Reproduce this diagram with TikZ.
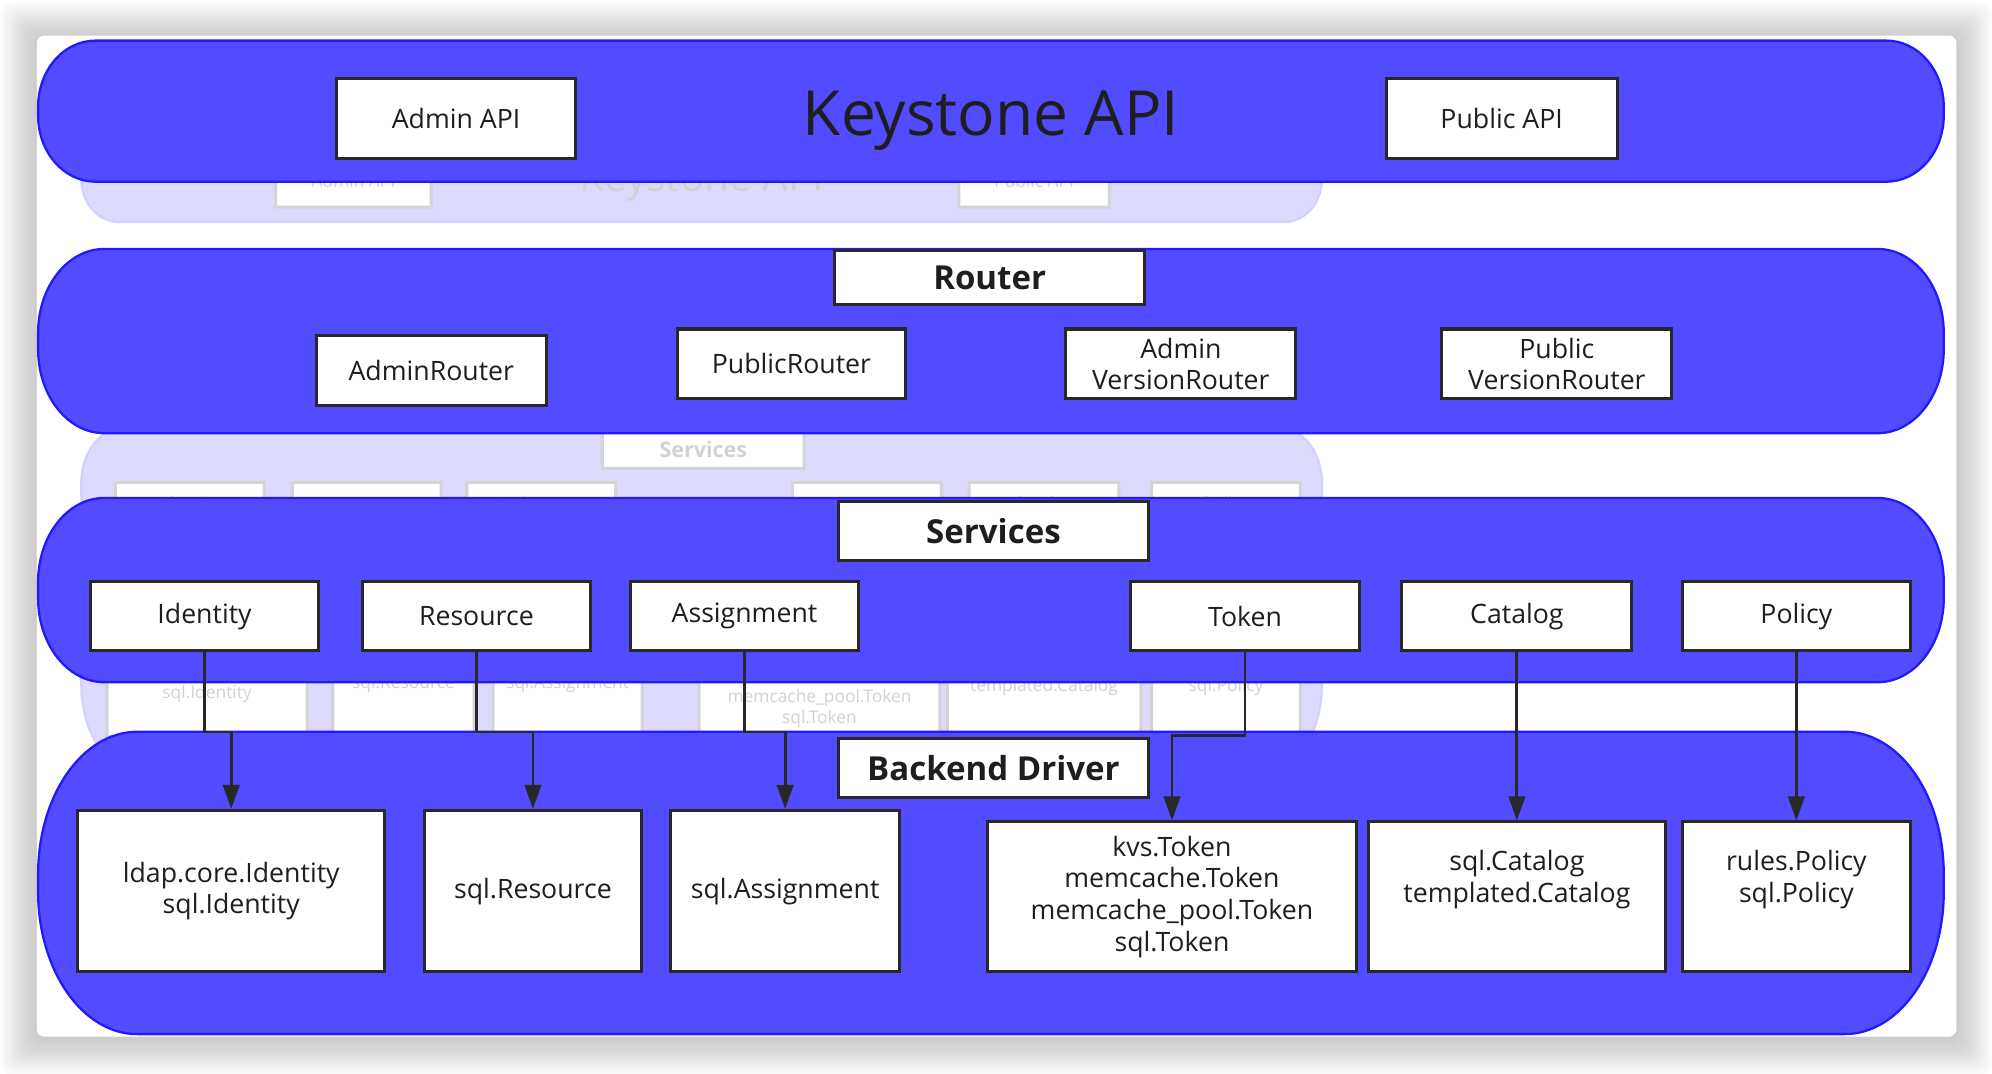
\documentclass[tikz,border=0pt]{standalone}
\usepackage{fontspec}
\setmainfont{Open Sans}
\usetikzlibrary{arrows.meta,calc}
\definecolor{layerblue}{RGB}{83,75,255}
\definecolor{layerline}{RGB}{35,25,255}
\definecolor{boxline}{RGB}{40,40,40}
\definecolor{boxtext}{RGB}{30,30,30}
\tikzstyle{layer}=[fill=layerblue,draw=layerline,line width=1.8pt]
\tikzstyle{box}=[rectangle,draw=boxline,fill=white,line width=2.4pt,text=boxtext,align=center,inner sep=0pt,font=\fontsize{21}{25}\selectfont]
\tikzstyle{titlebox}=[box,font=\fontsize{26}{30}\selectfont\bfseries]
\tikzstyle{title}=[text=boxtext,font=\fontsize{49}{56}\selectfont]
\tikzstyle{edge}=[draw=boxline,line width=2.2pt,->]

% one band: x1, y1, x2, y2, x radius, y radius of the ends
\newcommand{\bandshape}[6]{%
  \path[layer] ({#1+#5},#2) -- ({#3-#5},#2)
    arc[start angle=-90,end angle=0,x radius=#5,y radius=#6]
    -- (#3,{#4-#6})
    arc[start angle=0,end angle=90,x radius=#5,y radius=#6]
    -- ({#1+#5},#4)
    arc[start angle=90,end angle=180,x radius=#5,y radius=#6]
    -- (#1,{#2+#6})
    arc[start angle=180,end angle=270,x radius=#5,y radius=#6]
    -- cycle;}

% the whole keystone stack
\newcommand{\ksdiagram}{%
  % First the bands
  \bandshape{30}{702}{1530}{813}{45}{52}
  \bandshape{30}{504}{1530}{649}{52}{66}
  \bandshape{30}{308}{1530}{453}{52}{66}
  \bandshape{30}{31}{1530}{269}{78}{112}
  \node[title] (kstitle) at (780,750) {Keystone API};
  % band titles
  \foreach \pos/\name/\h/\label in {{(779,626.5)/router/43/Router},
    {(782,427)/services/46/Services}, {(782,240.5)/backend/47/Backend Driver}}
      \node[titlebox,minimum width=244pt,minimum height=\h pt] (\name) at \pos {\label};
  % then the boxes
  \foreach \pos/\name/\w/\h/\label in {{(359,751.5)/adminapi/188/63/Admin API},
    {(1182,751.5)/publicapi/182/63/Public API},
    {(339.5,553.5)/adminrouter/181/55/AdminRouter}, {(623,558.5)/publicrouter/180/55/PublicRouter},
    {(929.5,558.5)/adminvr/181/55/{Admin\\VersionRouter}}, {(1225.5,558.5)/publicvr/181/55/{Public\\VersionRouter}},
    {(161,360)/identity/180/54/Identity}, {(375,360)/resource/180/54/Resource},
    {(586,360)/assignment/180/54/Assignment}, {(980,360)/token/180/54/Token},
    {(1194,360)/catalog/181/54/Catalog}, {(1414,360)/policy/180/54/Policy},
    {(182,143.5)/ldap/242/127/{ldap.core.Identity\\sql.Identity}},
    {(419.5,143.5)/sqlres/171/127/sql.Resource}, {(618,143.5)/sqlassign/180/127/sql.Assignment},
    {(922.5,139)/kvs/291/118/{kvs.Token\\memcache.Token\\memcache\_pool.Token\\sql.Token}},
    {(1194,139)/sqlcat/234/118/{sql.Catalog\\templated.Catalog\\\strut}},
    {(1414,139)/rules/180/118/{rules.Policy\\sql.Policy\\\strut}}}
      \node[box,minimum width=\w pt,minimum height=\h pt] (\name) at \pos {\label};
  % Connect services with their drivers
  \foreach \source/\dest/\drop in {identity/ldap/63, resource/sqlres/63, assignment/sqlassign/63,
    token/kvs/66, catalog/sqlcat/63, policy/rules/63}
      \path[edge] (\source.south) -- ++(0,-\drop) -| (\dest.north);
}

\begin{document}
\begin{tikzpicture}[x=1pt,y=1pt,>={Triangle[length=19pt,width=13pt]}]
    \useasboundingbox (0,0) rectangle (1568,845);
    % window card and its shadow
    \foreach \i in {1,...,14}
        \fill[black,opacity=0.016,rounded corners=8pt] ({29-2*\i},{27-2*\i}) rectangle ({1540+2*\i},{815+2*\i});
    \fill[white,rounded corners=6pt] (29,29) rectangle (1540,817);
    % faded copy behind
    \begin{scope}[shift={(44.5,213.3)},scale=0.651,transform shape,name prefix=g-,transparency group,opacity=0.2]
        \ksdiagram
    \end{scope}
    \ksdiagram
\end{tikzpicture}
\end{document}
